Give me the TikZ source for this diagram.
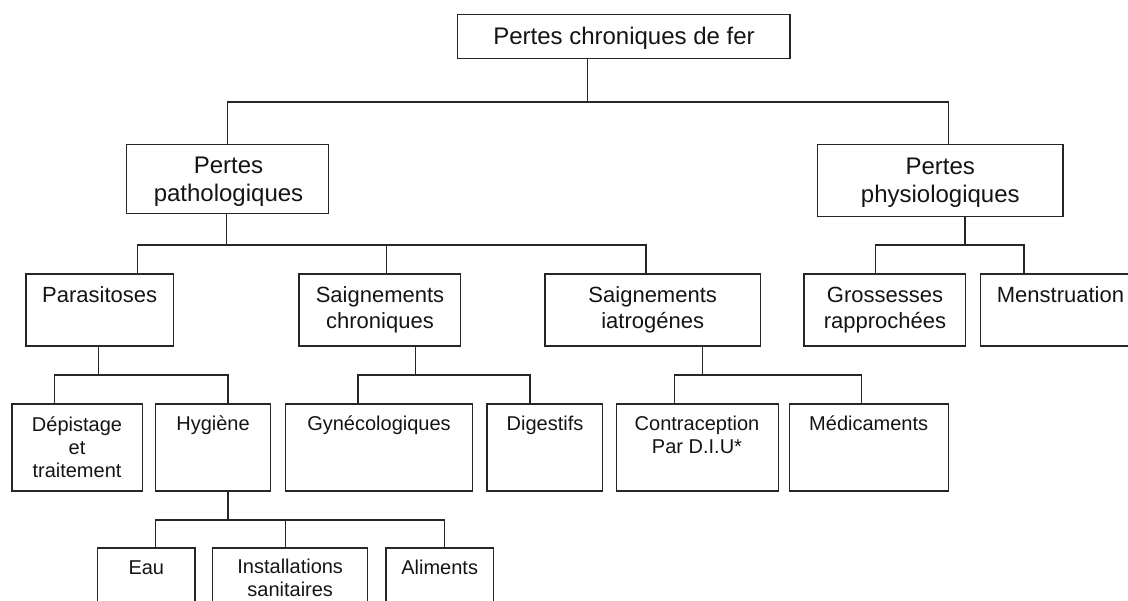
\documentclass[tikz,border=0pt]{standalone}
\usepackage{fontspec}
\setmainfont{Liberation Sans}
\begin{document}
\begin{tikzpicture}[x=1pt,y=-1pt,
  box/.style={draw=black!85, line width=1.2pt, inner sep=0pt, outer sep=0pt, anchor=north west},
  wire/.style={draw=black!85, line width=1.2pt},
  txt/.style={anchor=base, inner sep=0pt, outer sep=0pt, align=center, text=black!92},
  fA/.style={font=\fontsize{24}{28}\selectfont},
  fB/.style={font=\fontsize{22}{25.5}\selectfont},
  fC/.style={font=\fontsize{20}{23}\selectfont}]
\useasboundingbox (0,0) rectangle (1128,601);
\clip (0,0) rectangle (1128,601);

% ---- boxes
\node[box, minimum width=332.5pt, minimum height=44pt] (top) at (457.5,14.3) {};
\node[box, minimum width=202.2pt, minimum height=69pt] (patho) at (126.6,144.3) {};
\node[box, minimum width=245.3pt, minimum height=72.4pt] (physio) at (817.6,144.3) {};

\node[box, minimum width=147.5pt, minimum height=72pt] (para) at (25.9,274) {};
\node[box, minimum width=161.5pt, minimum height=72pt] (schron) at (298.9,274) {};
\node[box, minimum width=215.8pt, minimum height=72pt] (siatro) at (545,274) {};
\node[box, minimum width=161.8pt, minimum height=72pt] (gross) at (804,274) {};
\node[box, minimum width=160pt, minimum height=72pt] (menst) at (980.5,274) {};

\node[box, minimum width=130.2pt, minimum height=87pt] (depi) at (11.9,404) {};
\node[box, minimum width=115.1pt, minimum height=87pt] (hyg) at (155.4,404) {};
\node[box, minimum width=187.4pt, minimum height=87pt] (gyn) at (285.3,404) {};
\node[box, minimum width=115.5pt, minimum height=87pt] (dig) at (487,404) {};
\node[box, minimum width=162.2pt, minimum height=87pt] (contra) at (616.2,404) {};
\node[box, minimum width=159pt, minimum height=87pt] (medic) at (789.2,404) {};

\node[box, minimum width=97.3pt, minimum height=80pt] (eau) at (97.7,548) {};
\node[box, minimum width=155pt, minimum height=80pt] (inst) at (212.7,548) {};
\node[box, minimum width=107.3pt, minimum height=80pt] (alim) at (386,548) {};

% ---- labels (base anchor = baseline of the last line)
\node[txt, fA] (topT) at (624,45) {Pertes chroniques de fer};
\node[txt, fA] (pathoT) at (228.5,201.3) {Pertes\\pathologiques};
\node[txt, fA] (physioT) at (940.3,203) {Pertes\\physiologiques};

\node[txt, fB] (paraT) at (99.7,302.7) {Parasitoses};
\node[txt, fB] (schronT) at (380,328.2) {Saignements\\chroniques};
\node[txt, fB] (siatroT) at (652.7,328.2) {Saignements\\iatrogénes};
\node[txt, fB] (grossT) at (885,328.2) {Grossesses\\rapprochées};
\node[txt, fB] (menstT) at (1060.5,302.7) {Menstruation};

\node[txt, fC] (depiT) at (77,477.3) {Dépistage\\et\\traitement};
\node[txt, fC] (hygT) at (213,431) {Hygiène};
\node[txt, fC] (gynT) at (379,431) {Gynécologiques};
\node[txt, fC] (digT) at (545,431) {Digestifs};
\node[txt, fC] (contraT) at (697,454) {Contraception\\Par D.I.U*};
\node[txt, fC] (medicT) at (868.7,431) {Médicaments};

\node[txt, fC] (eauT) at (146.3,574.5) {Eau};
\node[txt, fC] (instT) at (290.2,596.5) {Installations\\sanitaires};
\node[txt, fC] (alimT) at (439.7,574.5) {Aliments};

% ---- bus points
\coordinate (b1l) at (227.7,102);
\coordinate (b1m) at (587.4,102);
\coordinate (b1r) at (948.2,102);

\coordinate (b2l) at (137.8,245);
\coordinate (b2p) at (226.5,245);
\coordinate (b2m) at (386.3,245);
\coordinate (b2r) at (646,245);

\coordinate (b3l) at (875.5,245);
\coordinate (b3p) at (965,245);
\coordinate (b3r) at (1024,245);

\coordinate (b4l) at (54.7,375);
\coordinate (b4p) at (98.2,375);
\coordinate (b4r) at (228,375);

\coordinate (b5l) at (357.9,375);
\coordinate (b5p) at (415.1,375);
\coordinate (b5r) at (529.9,375);

\coordinate (b6l) at (674.4,375);
\coordinate (b6p) at (702.8,375);
\coordinate (b6r) at (861.8,375);

\coordinate (b7l) at (155.8,520);
\coordinate (b7p) at (228,520);
\coordinate (b7m) at (285.3,520);
\coordinate (b7r) at (444.2,520);

% ---- connectors
\draw[wire] (top.south -| b1m) -- (b1m);
\draw[wire] (patho.north -| b1l) -- (b1l) -- (b1r) -- (physio.north -| b1r);

\draw[wire] (patho.south -| b2p) -- (b2p);
\draw[wire] (para.north -| b2l) -- (b2l) -- (b2r) -- (siatro.north -| b2r);
\draw[wire] (b2m) -- (schron.north -| b2m);

\draw[wire] (physio.south -| b3p) -- (b3p);
\draw[wire] (gross.north -| b3l) -- (b3l) -- (b3r) -- (menst.north -| b3r);

\draw[wire] (para.south -| b4p) -- (b4p);
\draw[wire] (depi.north -| b4l) -- (b4l) -- (b4r) -- (hyg.north -| b4r);

\draw[wire] (schron.south -| b5p) -- (b5p);
\draw[wire] (gyn.north -| b5l) -- (b5l) -- (b5r) -- (dig.north -| b5r);

\draw[wire] (siatro.south -| b6p) -- (b6p);
\draw[wire] (contra.north -| b6l) -- (b6l) -- (b6r) -- (medic.north -| b6r);

\draw[wire] (hyg.south -| b7p) -- (b7p);
\draw[wire] (eau.north -| b7l) -- (b7l) -- (b7r) -- (alim.north -| b7r);
\draw[wire] (b7m) -- (inst.north -| b7m);
\end{tikzpicture}
\end{document}
